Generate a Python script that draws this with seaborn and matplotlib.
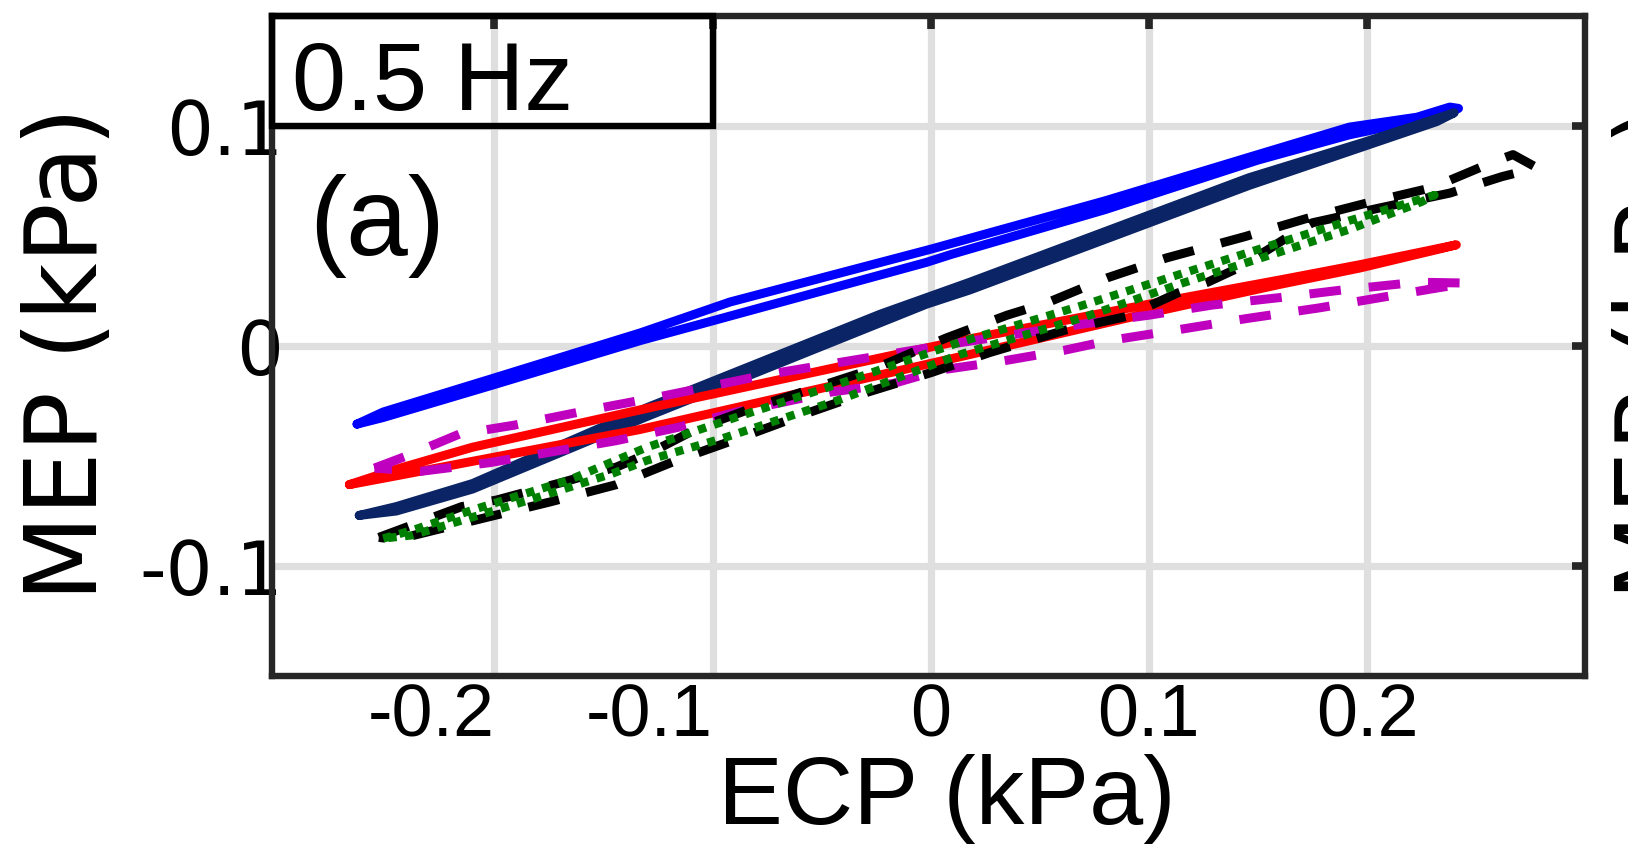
import matplotlib
matplotlib.use("Agg")
import matplotlib.pyplot as plt
import seaborn as sns
from matplotlib.patches import Rectangle

# Pressure loops at 0.5 Hz: MEP against ECP (kPa), each traced out and back
blue_x = [-0.263, -0.251, -0.200, -0.133, -0.092, 0.000, 0.080, 0.150, 0.192, 0.223, 0.238, 0.242,
          0.235, 0.192, 0.150, 0.080, 0.009, -0.002, -0.133, -0.200, -0.251, -0.263]
blue_y = [-0.0355, -0.030, -0.0145, 0.006, 0.020, 0.044, 0.066, 0.087, 0.0995, 0.104, 0.1086, 0.108,
          0.105, 0.096, 0.0845, 0.062, 0.0415, 0.038, 0.0025, -0.0175, -0.0325, -0.0355]

navy_x = [-0.262, -0.245, -0.210, -0.130, -0.023, 0.018, 0.146, 0.200, 0.240,
          0.232, 0.146, 0.018, -0.002, -0.130, -0.210, -0.245, -0.262]
navy_y = [-0.077, -0.073, -0.0625, -0.028, 0.0145, 0.029, 0.0765, 0.093, 0.106,
          0.102, 0.073, 0.0255, 0.019, -0.032, -0.065, -0.075, -0.077]

red_x = [-0.2665, -0.245, -0.210, -0.124, 0.013, 0.100, 0.160, 0.197, 0.241,
         0.235, 0.197, 0.160, 0.100, 0.013, -0.1335, -0.245, -0.2665]
red_y = [-0.063, -0.056, -0.046, -0.027, 0.0023, 0.019, 0.030, 0.037, 0.046,
         0.0445, 0.0355, 0.028, 0.015, -0.005, -0.038, -0.059, -0.063]

magenta_x = [-0.255, -0.239, -0.216, -0.191, -0.156, -0.124, -0.075, -0.045, 0.010, 0.070, 0.100,
             0.129, 0.160, 0.189, 0.223, 0.246,
             0.230, 0.205, 0.178, 0.145, 0.111, 0.082, 0.061, 0.032, 0.004, -0.017, -0.046,
             -0.089, -0.116, -0.144, -0.202, -0.234, -0.255]
magenta_y = [-0.0555, -0.0495, -0.040, -0.036, -0.029, -0.023, -0.013, -0.008, 0.001, 0.010, 0.014,
             0.0186, 0.022, 0.0255, 0.029, 0.0286,
             0.026, 0.0218, 0.0173, 0.0125, 0.007, 0.0025, -0.002, -0.007, -0.011, -0.017, -0.021,
             -0.030, -0.037, -0.043, -0.053, -0.057, -0.0555]

black_x = [-0.253, -0.215, -0.199, -0.169, -0.144, -0.1275, -0.106, -0.081, -0.053, -0.025, 0.007,
           0.035, 0.053, 0.081, 0.108, 0.144, 0.1725, 0.200, 0.230, 0.260, 0.267, 0.278,
           0.262, 0.238, 0.207, 0.175, 0.166, 0.155, 0.140, 0.127, 0.113, 0.090, 0.062, 0.027,
           0.0005, -0.029, -0.058, -0.088, -0.1165, -0.144, -0.175, -0.204, -0.245, -0.253]
black_y = [-0.087, -0.073, -0.070, -0.062, -0.055, -0.048, -0.037, -0.028, -0.019, -0.010, 0.0036,
           0.014, 0.0195, 0.031, 0.040, 0.0497, 0.058, 0.065, 0.072, 0.0845, 0.087, 0.081,
           0.077, 0.0695, 0.063, 0.056, 0.051, 0.044, 0.035, 0.029, 0.024, 0.0135, 0.0073, -0.003,
           -0.012, -0.021, -0.031, -0.042, -0.052, -0.063, -0.071, -0.078, -0.088, -0.087]

green_x = [-0.251, -0.2375, -0.210, -0.166, -0.130, -0.088, -0.0385, 0.013, 0.070, 0.1155, 0.160,
           0.192, 0.231,
           0.225, 0.192, 0.160, 0.1155, 0.070, 0.013, -0.042, -0.0955, -0.130, -0.146, -0.184,
           -0.2375, -0.251]
green_y = [-0.0875, -0.0837, -0.0745, -0.061, -0.046, -0.032, -0.016, 0.0016, 0.0186, 0.033, 0.047,
           0.057, 0.0686,
           0.0655, 0.053, 0.0427, 0.0286, 0.013, -0.004, -0.0245, -0.042, -0.052, -0.058, -0.070,
           -0.086, -0.0875]

x_ticks = [-0.2, -0.1, 0.0, 0.1, 0.2]
x_tick_labels = ["-0.2", "-0.1", "0", "0.1", "0.2"]
y_ticks = [-0.1, 0.0, 0.1]
y_tick_labels = ["-0.1", "0", "0.1"]

sns.set_style("white")
plt.rcParams["font.family"] = ["Liberation Sans", "DejaVu Sans"]
plt.rcParams["text.color"] = "black"
plt.rcParams["axes.labelcolor"] = "black"

fig = plt.figure(figsize=(16.28, 8.46), dpi=100)
ax = fig.add_axes([272 / 1628, 1 - 676 / 846, (1585 - 272) / 1628, (676 - 16) / 846])

dash = (0, (3.5, 3.1))
dot = (0, (1.0, 1.0))
series = [
    (blue_x, blue_y, "#0000ff", "-", 6.5),
    (navy_x, navy_y, "#0b2466", "-", 6.5),
    (red_x, red_y, "#ff0000", "-", 6.5),
    (magenta_x, magenta_y, "#bf00bf", dash, 6.5),
    (black_x, black_y, "#000000", dash, 6.5),
    (green_x, green_y, "#008000", dot, 6.0),
]
for xs, ys, col, ls, lw in series:
    sns.lineplot(x=xs, y=ys, sort=False, estimator=None, color=col, linewidth=lw,
                 linestyle=ls, solid_capstyle="round", solid_joinstyle="round",
                 dash_capstyle="butt", dash_joinstyle="round", ax=ax, legend=False)

ax.set_xlim(-0.302, 0.300)
ax.set_ylim(-0.15, 0.15)
ax.set_axisbelow(True)
ax.grid(True, color="#dfdfdf", linewidth=5.2)

ax.set_xticks(x_ticks)
ax.set_xticklabels(x_tick_labels, fontsize=53, family="Liberation Sans")
ax.set_yticks(y_ticks)
ax.set_yticklabels(y_tick_labels, fontsize=53, family="DejaVu Sans")
for lab in ax.get_xticklabels():
    if lab.get_text().startswith("-"):
        lab.set_horizontalalignment("right")

ax.tick_params(axis="both", direction="in", top=True, right=True, length=9.5, width=5.5,
               color="#262626", labelcolor="black")
ax.tick_params(axis="x", pad=5)
ax.tick_params(axis="y", pad=-8)

for sp in ax.spines.values():
    sp.set_color("#262626")
    sp.set_linewidth(4.6)
    sp.set_visible(True)

ax.set_xlabel("ECP (kPa)", fontsize=70, family="Liberation Sans", color="black")
ax.xaxis.set_label_coords(0.514, -0.118)
ax.set_ylabel("MEP (kPa)", fontsize=72, family="DejaVu Sans", color="black")
ax.yaxis.set_label_coords(-0.1173, 0.489)

# frequency tag in the upper-left corner
ax.add_patch(Rectangle((-0.302, 0.1), 0.202, 0.05, fill=False, edgecolor="black",
                       linewidth=4.6, clip_on=False, zorder=5))
ax.text(-0.2927, 0.1073, "0.5 Hz", fontsize=70, family="Liberation Sans",
        va="baseline", ha="left", zorder=6)
ax.text(-0.2850, 0.0414, "(a)", fontsize=80, family="Liberation Sans",
        va="baseline", ha="left", zorder=6)

# y label of the neighbouring panel, cut by the figure edge
fig.text(1.050, 0.5827, "MEP (kPa)", fontsize=72, family="DejaVu Sans", rotation=90,
         rotation_mode="anchor", ha="center", va="bottom", color="black")

fig.savefig("out.png", dpi=100, facecolor="white")
